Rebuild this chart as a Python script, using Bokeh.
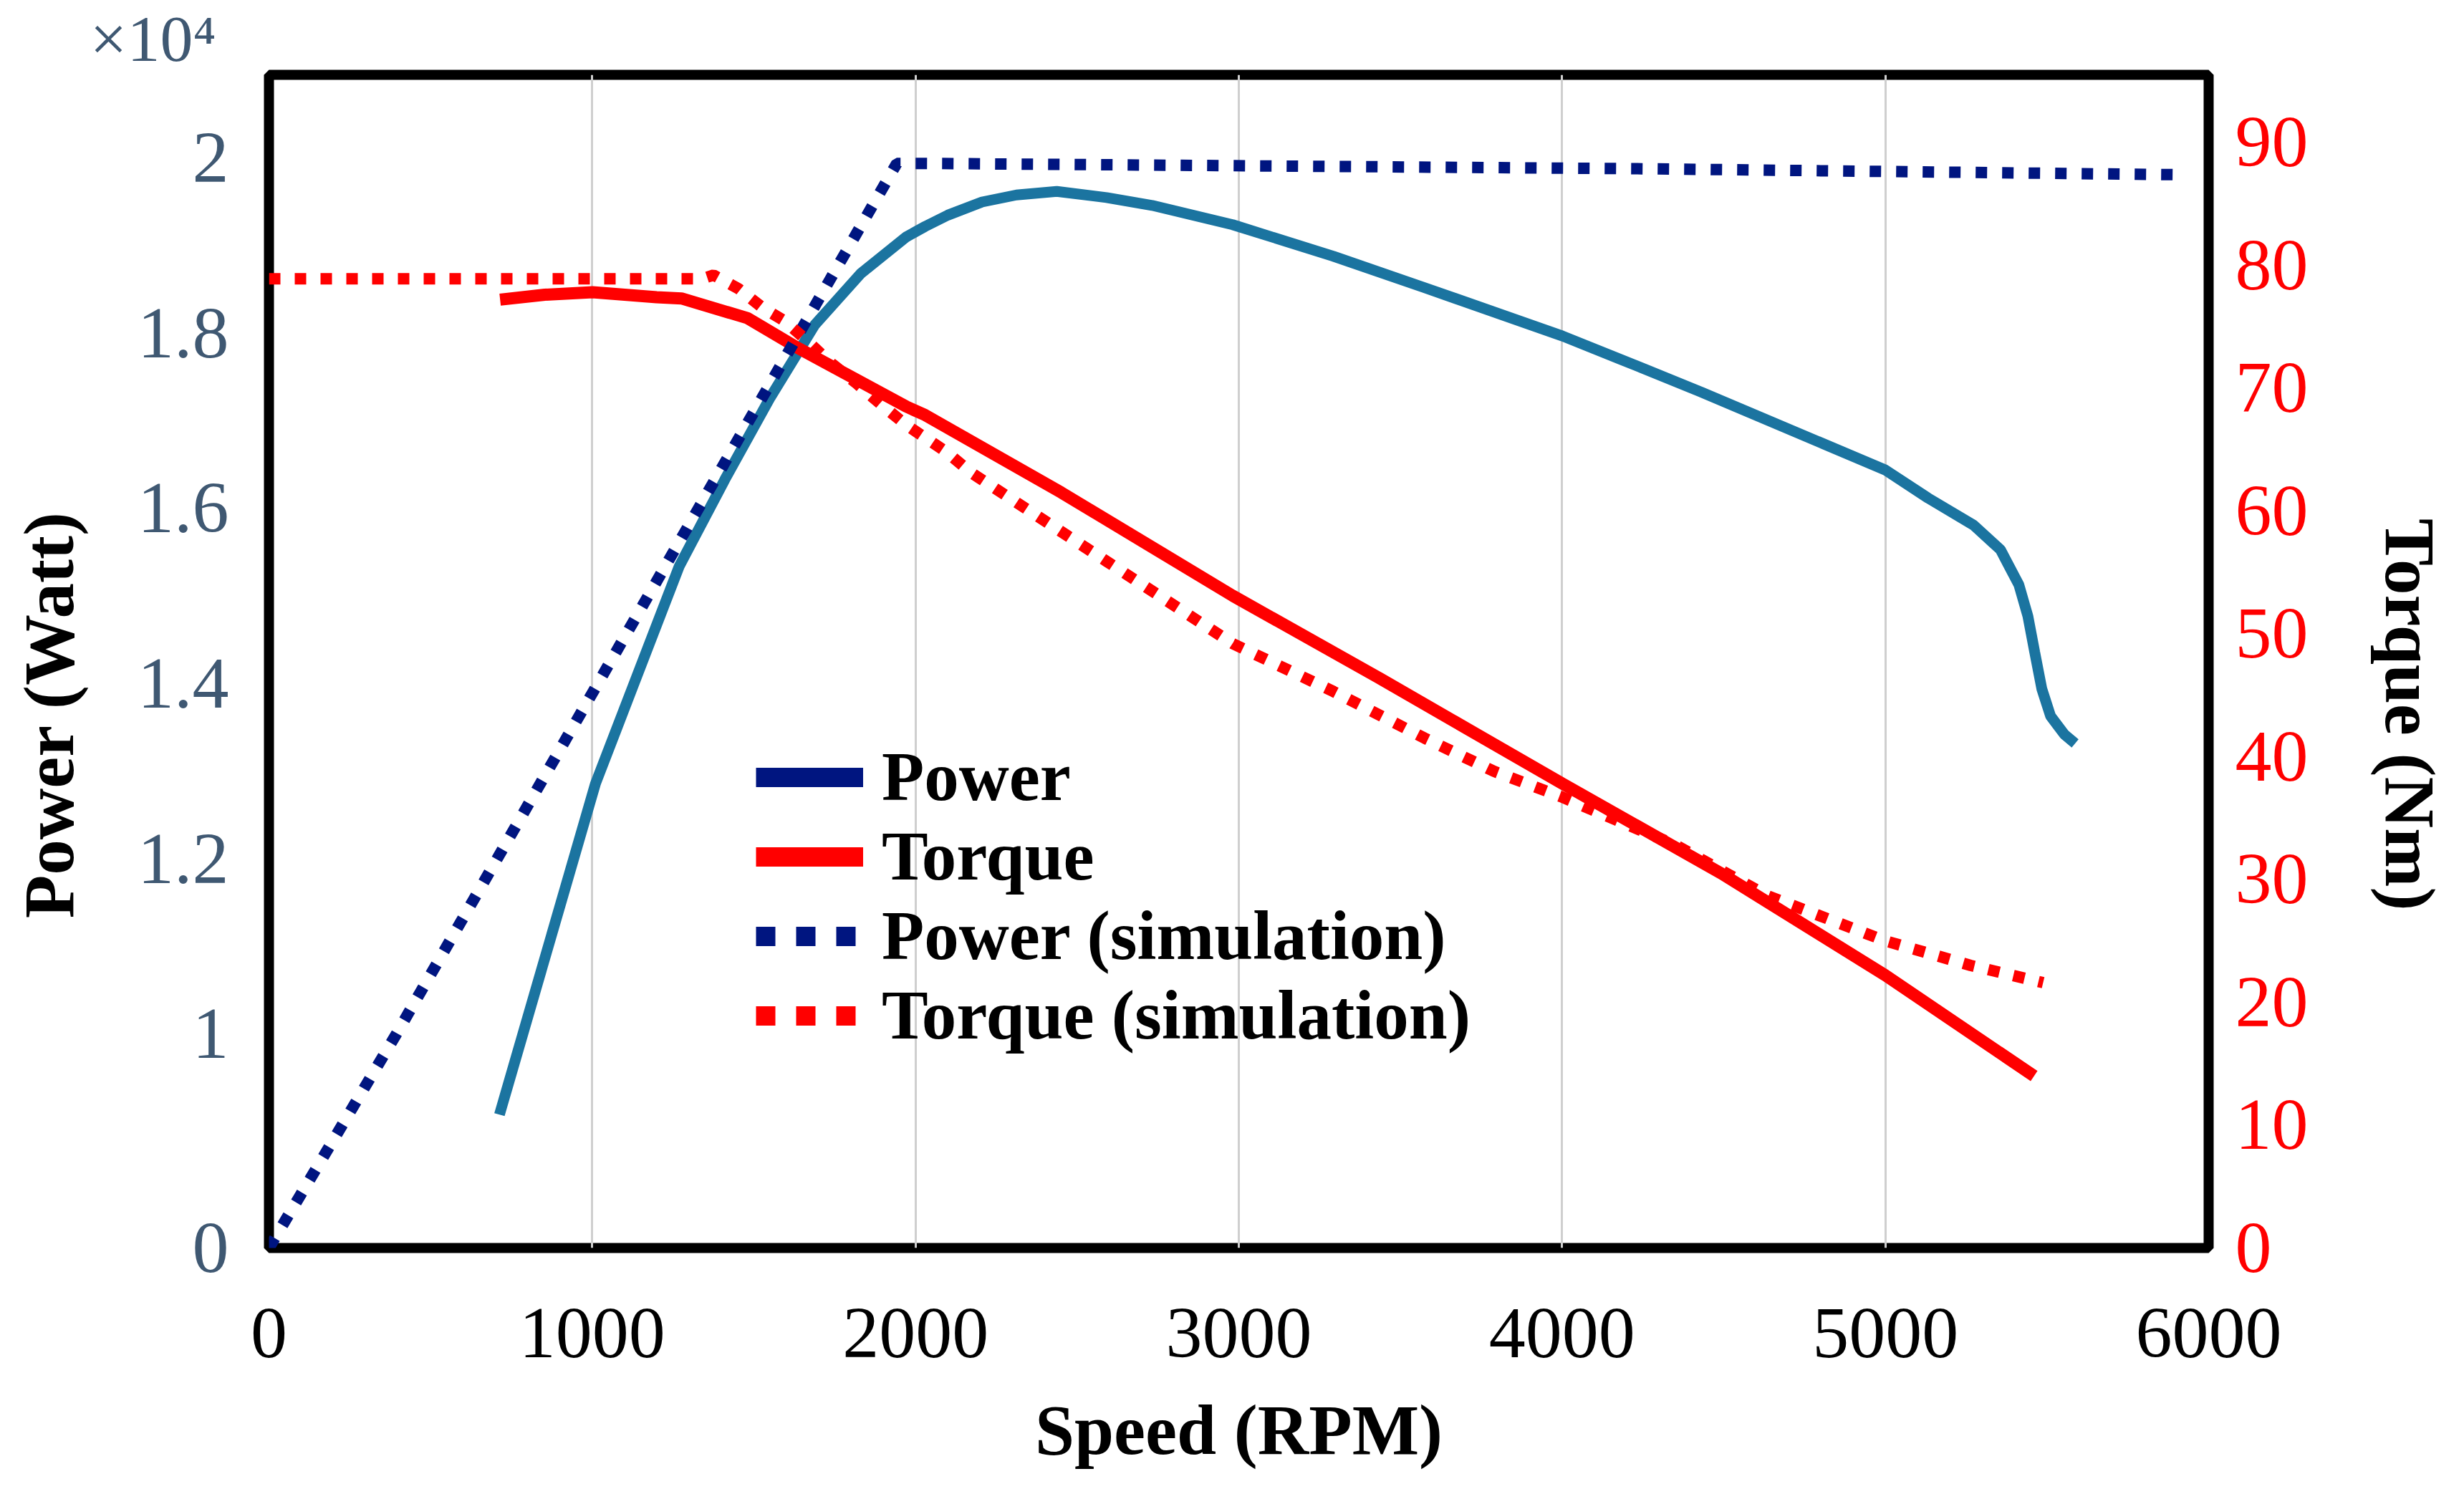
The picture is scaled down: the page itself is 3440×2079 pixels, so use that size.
import numpy as np
from bokeh.plotting import figure
from bokeh.models import (Range1d, LinearAxis, FixedTicker, Legend, LegendItem, Title,
                          CustomJSTickFormatter)
from bokeh.embed import file_html
from bokeh.resources import INLINE

SERIF = "Liberation Serif"
# note: sizes like "100px" next to "bold" trip the svg font parser, so avoid x00px
NBSP = "\u00a0"

# measured power (x10^4 W) vs speed (RPM)
power_rpm = [713, 1010, 1128, 1269, 1410, 1551, 1689, 1830, 1971, 2030, 2100, 2206, 2312,
             2437, 2591, 2732, 2981, 3293, 3575, 4001, 4230, 4430, 5000, 5132, 5273, 5356,
             5413, 5441, 5462, 5484, 5511, 5554, 5587]
power_val = [0.624, 1.286, 1.399, 1.534, 1.633, 1.727, 1.810, 1.868, 1.910, 1.922, 1.935, 1.950,
             1.958, 1.962, 1.955, 1.946, 1.924, 1.888, 1.852, 1.797, 1.763, 1.733, 1.644,
             1.612, 1.581, 1.553, 1.513, 1.477, 1.436, 1.394, 1.363, 1.342, 1.332]

# measured torque (Nm)
torque_rpm = [715, 853, 1001, 1199, 1276, 1480, 1634, 1971, 2030, 2451, 2981, 3434,
              4001, 4492, 5000, 5460]
torque_val = [77.2, 77.6, 77.8, 77.4, 77.3, 75.7, 73.3, 68.5, 67.8, 61.5, 53.1, 46.4,
              37.8, 30.5, 22.2, 14.0]

# simulated power (x10^4 W)
power_sim_rpm = [0, 394, 1942, 2030, 4230, 5904]
power_sim_val = [0.0, 1.0, 1.994, 1.994, 1.988, 1.981]

# simulated torque (Nm)
torque_sim_rpm = [0, 1340, 1375, 1452, 1529, 1593, 1663, 1731, 1817, 1901, 1971, 2096,
                  2173, 2312, 2591, 2981, 3293, 3575, 3790, 4001, 4351, 4633, 5000,
                  5264, 5488]
torque_sim_val = [78.9, 78.9, 79.2, 78.1, 76.5, 75.5, 73.9, 72.2, 70.4, 68.5, 67.0, 64.8,
                  63.1, 60.7, 55.9, 49.2, 45.3, 41.5, 38.8, 36.7, 32.8, 28.7, 25.0,
                  23.0, 21.6]

speed_ticks = [0, 1000, 2000, 3000, 4000, 5000, 6000]
power_ticks = [0, 1, 1.2, 1.4, 1.6, 1.8, 2]
power_tick_labels = ["0", "1", "1.2", "1.4", "1.6", "1.8", "2"]
torque_ticks = [0, 10, 20, 30, 40, 50, 60, 70, 80, 90]


def power_pos(p):
    # the left axis is broken: 0..1 is squeezed into the bottom band,
    # 1..2 runs linearly above it (positions in torque units)
    p = np.asarray(p, dtype=float)
    return np.round(np.where(p <= 1, p * 17.41, 17.41 + (p - 1) * 71.31), 2)


p = figure(width=3424, height=2063, output_backend="svg", toolbar_location=None,
           x_range=Range1d(0, 6000), y_range=Range1d(0, 95.5),
           min_border_left=375, min_border_right=341, min_border_top=99, min_border_bottom=321)
p.outline_line_color = "black"
p.outline_line_width = 14
p.background_fill_color = "white"
p.border_fill_color = "white"

p.ygrid.visible = False
p.xgrid.ticker = FixedTicker(ticks=speed_ticks)
p.xgrid.grid_line_color = "#cfcfcf"
p.xgrid.grid_line_width = 3


def style_axis(ax, color, size="102px"):
    ax.axis_line_color = None
    ax.major_tick_line_color = None
    ax.minor_tick_line_color = None
    ax.major_label_text_font = SERIF
    ax.major_label_text_font_size = size
    ax.major_label_text_color = color
    ax.axis_label_text_font = SERIF
    ax.axis_label_text_font_style = "bold"
    ax.axis_label_text_font_size = "99px"
    ax.axis_label_text_color = "black"


xa = p.xaxis[0]
xa.ticker = FixedTicker(ticks=speed_ticks)
xa.axis_label = "Speed (RPM)"
style_axis(xa, "black")
xa.major_label_standoff = 79
xa.axis_label_standoff = 44

pos = [float(v) for v in power_pos(power_ticks)]
ya = p.yaxis[0]
ya.ticker = FixedTicker(ticks=pos)
ya.formatter = CustomJSTickFormatter(args=dict(pos=pos, labels=power_tick_labels), code="""
    let best = 0
    for (let i = 0; i < pos.length; i++) {
        if (Math.abs(pos[i] - tick) < Math.abs(pos[best] - tick)) best = i
    }
    return labels[best]
""")
# padding moves the title a bit below the middle, as in the original
ya.axis_label = "Power (Watt)" + NBSP * 6
style_axis(ya, "#3f5872")
ya.major_label_standoff = 50
ya.axis_label_standoff = 66

ra = LinearAxis(ticker=FixedTicker(ticks=torque_ticks), axis_label=NBSP * 6 + "Torque (Nm)")
style_axis(ra, "#ff0000")
ra.major_label_standoff = 31
ra.axis_label_standoff = 84
p.add_layout(ra, "right")

# exponent of the power axis, top left
p.add_layout(Title(text="\u00d710\u2074", align="left", offset=-250, standoff=0,
                   text_font=SERIF, text_font_size="92px", text_font_style="normal",
                   text_color="#3f5872"), "above")

TEAL = "#1b74a0"
NAVY = "#001580"
RED = "#ff0000"

p.line(power_rpm, power_pos(power_val), line_color=TEAL, line_width=15)
p.line(torque_rpm, torque_val, line_color=RED, line_width=17)
p.line(power_sim_rpm, power_pos(power_sim_val), line_color=NAVY, line_width=16,
       line_dash="16 21")
p.line(torque_sim_rpm, torque_sim_val, line_color=RED, line_width=16, line_dash="16 20")

# legend swatches (the original legend draws them thicker, and Power in navy)
nan = [float("nan")]
lg_power = p.line(nan, nan, line_color=NAVY, line_width=27)
lg_torque = p.line(nan, nan, line_color=RED, line_width=27)
lg_psim = p.line(nan, nan, line_color=NAVY, line_width=27, line_dash="27 29")
lg_tsim = p.line(nan, nan, line_color=RED, line_width=27, line_dash="27 29")

legend = Legend(items=[LegendItem(label="Power", renderers=[lg_power]),
                       LegendItem(label="Torque", renderers=[lg_torque]),
                       LegendItem(label="Power (simulation)", renderers=[lg_psim]),
                       LegendItem(label="Torque (simulation)", renderers=[lg_tsim])],
                location=(680, 269), padding=0, margin=0, spacing=0,
                border_line_color=None, background_fill_alpha=0,
                glyph_width=150, glyph_height=108, label_height=108, label_standoff=26,
                label_text_font=SERIF, label_text_font_style="bold",
                label_text_font_size="97px", label_text_color="black")
p.add_layout(legend)

open("out.html", "w").write(file_html(p, INLINE))
